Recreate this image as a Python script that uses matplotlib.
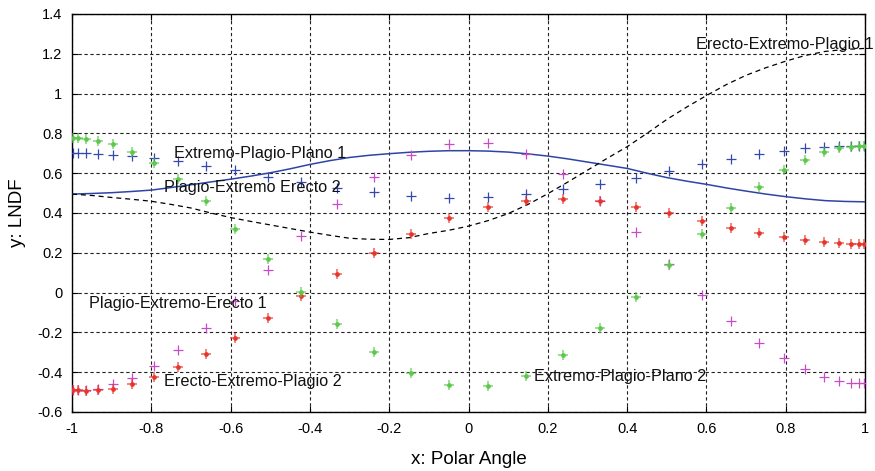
import matplotlib
matplotlib.use("Agg")
import matplotlib.pyplot as plt
from matplotlib.ticker import FuncFormatter, MultipleLocator

plt.rcParams['font.family'] = ['Liberation Sans', 'DejaVu Sans']
plt.rcParams['lines.scale_dashes'] = False

# Polar-angle sample points (cosine of the zenith angle)
mu = [-0.9973, -0.9856, -0.9647, -0.9349, -0.8963, -0.8493, -0.7944, -0.7321,
      -0.6630, -0.5877, -0.5068, -0.4213, -0.3318, -0.2392, -0.1444, -0.0483,
      0.0483, 0.1444, 0.2392, 0.3318, 0.4213, 0.5068, 0.5877, 0.6630,
      0.7321, 0.7944, 0.8493, 0.8963, 0.9349, 0.9647, 0.9856, 0.9973]

lndf_blue = [0.700, 0.700, 0.700, 0.697, 0.693, 0.687, 0.677, 0.660,
             0.637, 0.616, 0.583, 0.558, 0.528, 0.505, 0.485, 0.476,
             0.480, 0.493, 0.520, 0.545, 0.576, 0.613, 0.647, 0.672,
             0.695, 0.712, 0.727, 0.730, 0.737, 0.738, 0.738, 0.738]

lndf_magenta = [-0.490, -0.490, -0.489, -0.486, -0.461, -0.428, -0.369, -0.289,
                -0.177, -0.040, 0.112, 0.282, 0.443, 0.580, 0.692, 0.747,
                0.750, 0.698, 0.596, 0.461, 0.304, 0.143, -0.012, -0.144,
                -0.252, -0.331, -0.386, -0.423, -0.444, -0.453, -0.456, -0.456]

lndf_red = [-0.490, -0.490, -0.497, -0.490, -0.482, -0.458, -0.425, -0.373,
            -0.307, -0.226, -0.129, -0.018, 0.094, 0.199, 0.296, 0.374,
            0.431, 0.461, 0.470, 0.461, 0.431, 0.398, 0.361, 0.326,
            0.301, 0.277, 0.262, 0.252, 0.249, 0.244, 0.244, 0.244]

lndf_green = [0.775, 0.775, 0.770, 0.763, 0.745, 0.707, 0.650, 0.570,
              0.458, 0.322, 0.169, 0.004, -0.157, -0.301, -0.406, -0.466,
              -0.471, -0.418, -0.316, -0.177, -0.023, 0.140, 0.294, 0.424,
              0.533, 0.615, 0.668, 0.705, 0.725, 0.733, 0.737, 0.737]

# Continuous model curves
curve_x = [-1.00, -0.95, -0.90, -0.85, -0.80, -0.75, -0.70, -0.65, -0.60, -0.55,
           -0.50, -0.45, -0.40, -0.35, -0.30, -0.25, -0.20, -0.15, -0.10, -0.05,
           0.00, 0.05, 0.10, 0.15, 0.20, 0.25, 0.30, 0.35, 0.40, 0.45,
           0.50, 0.55, 0.60, 0.65, 0.70, 0.75, 0.80, 0.85, 0.90, 0.95, 1.00]

curve_solid = [0.495, 0.498, 0.502, 0.508, 0.515, 0.528, 0.542, 0.556, 0.570, 0.585,
               0.602, 0.622, 0.644, 0.663, 0.679, 0.690, 0.698, 0.705, 0.710, 0.713,
               0.713, 0.711, 0.706, 0.697, 0.686, 0.672, 0.656, 0.640, 0.624, 0.600,
               0.578, 0.560, 0.544, 0.526, 0.510, 0.495, 0.482, 0.471, 0.462, 0.458, 0.456]

curve_dashed = [0.495, 0.488, 0.478, 0.469, 0.459, 0.443, 0.425, 0.400, 0.377, 0.358,
                0.340, 0.322, 0.304, 0.288, 0.273, 0.268, 0.267, 0.276, 0.297, 0.313,
                0.334, 0.362, 0.397, 0.443, 0.497, 0.555, 0.615, 0.675, 0.733, 0.800,
                0.870, 0.932, 0.990, 1.045, 1.092, 1.130, 1.163, 1.192, 1.212, 1.222, 1.227]

annotations = [
    ("Extremo-Plagio-Plano 1", -0.742, 0.700),
    ("Plagio-Extremo Erecto 2", -0.768, 0.527),
    ("Erecto-Extremo-Plagio 1", 0.574, 1.249),
    ("Plagio-Extremo-Erecto 1", -0.956, -0.054),
    ("Erecto-Extremo-Plagio 2", -0.767, -0.445),
    ("Extremo-Plagio-Plano 2", 0.166, -0.420),
]

fig = plt.figure(figsize=(8.75, 4.71), dpi=100)
ax = fig.add_axes([0.0823, 0.1253, 0.9063, 0.845])

ax.plot(curve_x, curve_solid, color='#2F45A6', lw=1.1, zorder=3)
ax.plot(curve_x, curve_dashed, color='black', lw=0.9, ls=(0, (3.6, 2.8)), zorder=3)
ax.plot(mu, lndf_blue, ls='none', marker='+', ms=7, mew=0.9, color='#3548B0', zorder=4)
ax.plot(mu, lndf_magenta, ls='none', marker='+', ms=7, mew=0.9, color='#C84CC8', zorder=4)

# Red and green series: small plus with a solid centre
for vals, col in ((lndf_red, '#E8352C'), (lndf_green, '#5CC84C')):
    ax.plot(mu, vals, ls='none', marker='+', ms=6.5, mew=1.2, color=col, alpha=0.7, zorder=4)
    ax.plot(mu, vals, ls='none', marker='o', ms=3.4, mew=0, color=col, zorder=4)

for text, x, y in annotations:
    ax.text(x, y, text, fontsize=11.7, ha='left', va='center', color='#111111', zorder=5)

ax.set_xlim(-1, 1)
ax.set_ylim(-0.6, 1.4)
ax.xaxis.set_major_locator(MultipleLocator(0.2))
ax.yaxis.set_major_locator(MultipleLocator(0.2))
fmt = FuncFormatter(lambda v, _: f"{round(v, 2):g}")
ax.xaxis.set_major_formatter(fmt)
ax.yaxis.set_major_formatter(fmt)

ax.grid(True, color='#222222', lw=0.8, ls=(0, (2.4, 1.9)))
ax.set_axisbelow(True)
ax.tick_params(direction='in', length=4, width=0.8, top=True, right=True,
               labelsize=10.5, pad=7, colors='black')
for s in ax.spines.values():
    s.set_linewidth(1.0)

ax.set_xlabel("x: Polar Angle", fontsize=13.5, labelpad=11)
ax.set_ylabel("y: LNDF", fontsize=13.5, labelpad=8)

fig.savefig("out.png", dpi=100)
